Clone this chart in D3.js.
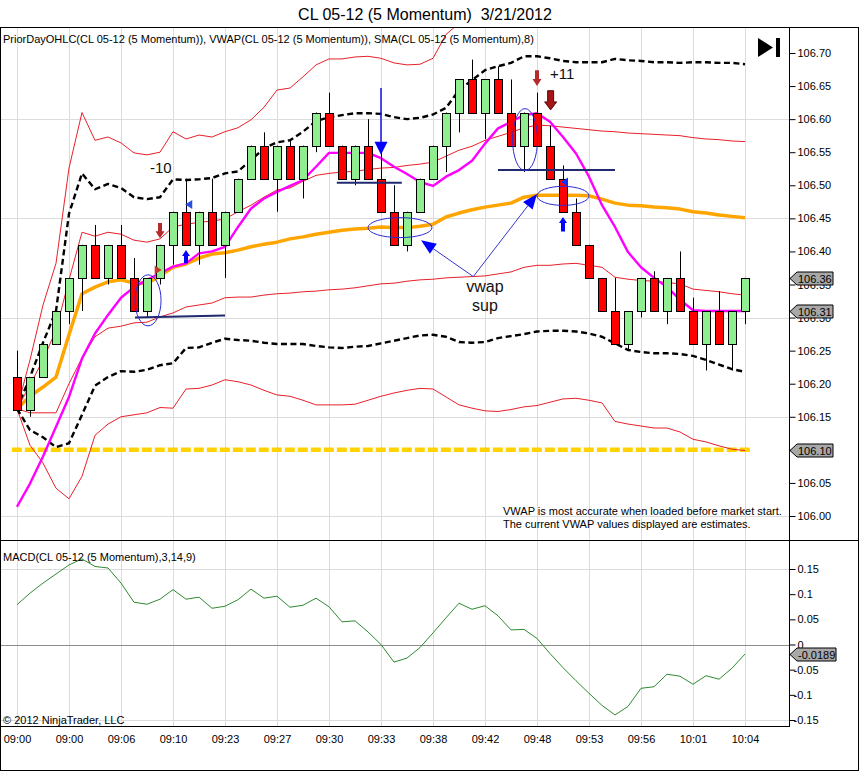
<!DOCTYPE html>
<html>
<head>
<meta charset="utf-8">
<script src="https://cdn.jsdelivr.net/npm/d3@7"></script>
<style>
  body { margin: 0; background: #fff; }
  svg { display: block; font-family: "Liberation Sans", Arial, sans-serif; }
</style>
</head>
<body>
<svg id="chart" width="860" height="772"></svg>
<script>
// 5 tick momentum bars, CL 05-12, 3/21/2012
const opens = [106.21,106.16,106.21,106.26,106.31,106.36,106.41,106.36,106.41,106.36,
  106.31,106.36,106.41,106.46,106.41,106.46,106.41,106.46,106.51,106.56,
  106.51,106.56,106.51,106.56,106.61,106.56,106.51,106.56,106.51,106.46,
  106.41,106.46,106.51,106.56,106.61,106.66,106.61,106.66,106.61,106.56,
  106.61,106.56,106.51,106.46,106.41,106.36,106.31,106.26,106.31,106.36,
  106.31,106.36,106.31,106.26,106.31,106.26,106.31]
const highs = [106.25,106.21,106.26,106.31,106.36,106.41,106.44,106.41,106.44,106.39,
  106.36,106.41,106.46,106.51,106.46,106.51,106.46,106.51,106.56,106.58,
  106.56,106.57,106.56,106.61,106.64,106.56,106.56,106.60,106.55,106.50,
  106.46,106.51,106.56,106.61,106.66,106.69,106.66,106.68,106.66,106.61,
  106.64,106.59,106.53,106.48,106.41,106.36,106.36,106.31,106.36,106.37,
  106.36,106.40,106.33,106.31,106.34,106.31,106.36]
const lows = [106.16,106.15,106.21,106.26,106.29,106.31,106.36,106.35,106.36,106.31,
  106.30,106.35,106.38,106.41,106.38,106.41,106.36,106.46,106.51,106.51,
  106.46,106.51,106.48,106.55,106.56,106.51,106.50,106.51,106.46,106.41,
  106.40,106.46,106.51,106.52,106.58,106.61,106.57,106.61,106.56,106.52,
  106.56,106.51,106.46,106.41,106.36,106.31,106.26,106.25,106.30,106.31,
  106.29,106.31,106.26,106.22,106.26,106.22,106.29]
const closes = [106.16,106.21,106.26,106.31,106.36,106.41,106.36,106.41,106.36,106.31,
  106.36,106.41,106.46,106.41,106.46,106.41,106.46,106.51,106.56,106.51,
  106.56,106.51,106.56,106.61,106.56,106.51,106.56,106.51,106.46,106.41,
  106.46,106.51,106.56,106.61,106.66,106.61,106.66,106.61,106.56,106.61,
  106.56,106.51,106.46,106.41,106.36,106.31,106.26,106.31,106.36,106.31,
  106.36,106.31,106.26,106.31,106.26,106.31,106.36]

// VWAP and its deviation bands
const vwap = [106.162,106.181,106.195,106.210,106.274,106.336,106.346,106.354,106.357,106.352,
  106.352,106.363,106.376,106.381,106.390,106.396,106.398,106.402,106.407,106.411,
  106.414,106.419,106.422,106.426,106.429,106.432,106.434,106.435,106.437,106.436,
  106.436,106.438,106.441,106.452,106.458,106.463,106.467,106.470,106.473,106.482,
  106.485,106.485,106.485,106.485,106.484,106.479,106.473,106.470,106.469,106.467,
  106.466,106.464,106.460,106.458,106.455,106.453,106.451]
const band1Upper = [106.162,106.198,106.236,106.281,106.357,106.429,106.423,106.429,106.426,106.417,
  106.414,106.419,106.437,106.441,106.444,106.446,106.449,106.460,106.470,106.482,
  106.493,106.496,106.506,106.515,106.518,106.520,106.521,106.524,106.526,106.527,
  106.530,106.532,106.535,106.544,106.553,106.559,106.568,106.574,106.580,106.587,
  106.591,106.590,106.588,106.586,106.584,106.582,106.581,106.579,106.578,106.577,
  106.576,106.575,106.572,106.570,106.569,106.567,106.566]
const band1Lower = [106.162,106.156,106.156,106.156,106.200,106.239,106.271,106.284,106.287,106.292,
  106.293,106.301,106.307,106.316,106.319,106.322,106.330,106.331,106.331,106.334,
  106.336,106.337,106.339,106.340,106.342,106.343,106.345,106.348,106.351,106.352,
  106.355,106.357,106.358,106.360,106.361,106.362,106.363,106.366,106.369,106.376,
  106.379,106.379,106.381,106.382,106.379,106.376,106.361,106.358,106.356,106.355,
  106.353,106.351,106.343,106.341,106.339,106.336,106.334]
const band2Upper = [106.162,106.210,106.262,106.310,106.457,106.518,106.494,106.502,106.496,106.482,
  106.479,106.482,106.509,106.508,106.509,106.511,106.518,106.521,106.538,106.556,
  106.565,106.568,106.581,106.597,106.603,106.606,106.609,106.609,106.608,106.603,
  106.600,106.602,106.607,106.617,106.644,106.659,106.674,106.680,106.685,106.695,
  106.695,106.692,106.688,106.686,106.686,106.686,106.691,106.689,106.688,106.686,
  106.686,106.685,106.686,106.686,106.685,106.685,106.683]
const band2Lower = [106.162,106.130,106.119,106.104,106.110,106.153,106.197,106.210,106.219,106.218,
  106.221,106.228,106.231,106.254,106.255,106.262,106.268,106.266,106.265,106.262,
  106.260,106.260,106.260,106.257,106.255,106.254,106.256,106.257,106.261,106.265,
  106.269,106.273,106.274,106.271,106.263,106.262,106.263,106.269,106.272,106.275,
  106.279,106.280,106.280,106.279,106.276,106.271,106.261,106.251,106.248,106.246,
  106.246,106.245,106.242,106.236,106.229,106.222,106.218]
const band3Upper = [106.162,106.236,106.319,106.382,106.526,106.610,106.568,106.573,106.564,106.549,
  106.546,106.550,106.581,106.570,106.576,106.573,106.581,106.587,106.599,106.618,
  106.644,106.647,106.664,106.682,106.691,106.691,106.694,106.695,106.692,106.685,
  106.682,106.683,106.692,106.728,106.745,106.751,106.770,106.782,106.794,106.797,
  106.803,106.800,106.794,106.788,106.784,106.788,106.797,106.797,106.796,106.797,
  106.796,106.797,106.796,106.794,106.797,106.795,106.796]
const band3Lower = [106.162,106.107,106.080,106.042,106.026,106.060,106.122,106.139,106.150,106.153,
  106.156,106.164,106.163,106.192,106.193,106.198,106.206,106.203,106.198,106.190,
  106.183,106.181,106.175,106.168,106.168,106.168,106.169,106.175,106.181,106.186,
  106.190,106.193,106.192,106.180,106.168,106.163,106.159,106.158,106.161,106.165,
  106.167,106.172,106.177,106.178,106.175,106.171,106.143,106.139,106.136,106.133,
  106.133,106.127,106.116,106.112,106.106,106.101,106.099]

// SMA(8)
const sma8 = [106.014,106.049,106.090,106.135,106.180,106.238,106.276,106.304,106.330,106.346,
  106.357,106.367,106.377,106.382,106.397,106.400,106.407,106.437,106.465,106.480,
  106.490,106.499,106.508,106.528,106.549,106.549,106.549,106.549,106.541,106.528,
  106.517,106.505,106.499,106.513,106.523,106.537,106.563,106.586,106.596,106.606,
  106.609,106.596,106.573,106.548,106.513,106.470,106.437,106.399,106.376,106.360,
  106.346,106.327,106.311,106.310,106.310,106.310,106.310]

// MACD(3,14,9)
const macd = [0.079,0.102,0.122,0.140,0.158,0.170,0.155,0.152,0.122,0.084,
  0.080,0.090,0.109,0.090,0.094,0.072,0.076,0.089,0.110,0.092,
  0.096,0.074,0.078,0.092,0.075,0.045,0.047,0.025,0.000,-0.035,
  -0.027,-0.006,0.023,0.053,0.082,0.070,0.077,0.057,0.029,0.030,
  0.012,-0.018,-0.046,-0.072,-0.097,-0.121,-0.140,-0.123,-0.087,-0.084,
  -0.059,-0.063,-0.079,-0.062,-0.069,-0.047,-0.0189]

const priorDayLevel = 106.10

const xTickBars = [0,4,8,12,16,20,24,28,32,36,40,44,48,52,56]
const xTickLabels = ["09:00","09:00","09:06","09:10","09:23","09:27","09:30","09:33",
  "09:38","09:42","09:48","09:53","09:56","10:01","10:04"]
const priceTicks = [106.00,106.05,106.10,106.15,106.20,106.25,106.30,106.35,106.40,
  106.45,106.50,106.55,106.60,106.65,106.70]
const priceGrid = [106.00,106.15,106.30,106.45,106.60]
const macdTicks = [0.15,0.1,0.05,0,-0.05,-0.1,-0.15]
const macdGrid = [0.15,-0.15]

const priceMarkers = [106.36, 106.31, 106.10]
const macdMarkers = [-0.0189]

// hand drawn objects, in bar / price units
const ellipses = [
  {bar: 10.08, price: 106.326, rxBars: 1.0, ryPrice: 0.0386},
  {bar: 29.46, price: 106.436, rxBars: 2.46, ryPrice: 0.0151},
  {bar: 39.08, price: 106.569, rxBars: 0.96, ryPrice: 0.0469},
  {bar: 42.0, price: 106.484, rxBars: 2.0, ryPrice: 0.0144}
]
const levelLines = [
  {from: 9.08, to: 16.0, p1: 106.300, p2: 106.303},
  {from: 24.6, to: 29.6, p1: 106.504, p2: 106.504},
  {from: 37.0, to: 46.0, p1: 106.523, p2: 106.523}
]
const blockArrows = [
  {bar: 11, from: 106.443, to: 106.420, kind: "red"},
  {bar: 40, from: 106.674, to: 106.650, kind: "red"},
  {bar: 41.05, from: 106.643, to: 106.614, kind: "bigred"},
  {bar: 13, from: 106.382, to: 106.402, kind: "blue"},
  {bar: 42, from: 106.430, to: 106.452, kind: "blue"}
]
const markTriangles = [
  {bar: 13.25, price: 106.471, dir: -1, color: "#2a4ee0"},
  {bar: 10.82, price: 106.372, dir: 1, color: "#c0392b"},
  {bar: 42.15, price: 106.505, dir: -1, color: "#1030ff"}
]
const sellArrow = {bar: 28, from: 106.647, to: 106.546}
const vwapSupAnchor = {bar: 35.1, price: 106.362}
const vwapSupTargets = [{bar: 31.08, price: 106.417}, {bar: 40.0, price: 106.487}]
const notes = [
  {text: "-10", bar: 10.23, price: 106.519, anchor: "start", size: 15},
  {text: "+11", bar: 41.0, price: 106.661, anchor: "start", size: 15},
  {text: "vwap", bar: 36.0, price: 106.339, anchor: "middle", size: 16},
  {text: "sup", bar: 36.0, price: 106.310, anchor: "middle", size: 16}
]

// ---------------------------------------------------------------
const svg = d3.select("#chart")
const axisX = 789

const x = d3.scaleLinear().domain([0, 56]).range([17, 745])
const y = d3.scaleLinear().domain([106.00, 106.70]).range([516, 53])
const yMacd = d3.scaleLinear().domain([-0.15, 0.15]).range([720, 569])

const crisp = v => Math.round(v) + 0.5

const defs = svg.append("defs")
defs.append("clipPath").attr("id", "clipPrice")
  .append("rect").attr("x", 1).attr("y", 28).attr("width", axisX - 1).attr("height", 512)
defs.append("clipPath").attr("id", "clipMacd")
  .append("rect").attr("x", 1).attr("y", 541).attr("width", axisX - 1).attr("height", 185)

// grid
const grid = svg.append("g").attr("stroke", "#dcdcdc").attr("stroke-width", 1)
grid.selectAll("line.gv").data(xTickBars).join("line").attr("class", "gv")
  .attr("x1", d => crisp(x(d))).attr("x2", d => crisp(x(d)))
  .attr("y1", 28).attr("y2", 726)
grid.selectAll("line.gp").data(priceGrid).join("line").attr("class", "gp")
  .attr("x1", 1).attr("x2", axisX)
  .attr("y1", d => crisp(y(d))).attr("y2", d => crisp(y(d)))
grid.selectAll("line.gm").data(macdGrid).join("line").attr("class", "gm")
  .attr("x1", 1).attr("x2", axisX)
  .attr("y1", d => crisp(yMacd(d))).attr("y2", d => crisp(yMacd(d)))

// price panel
const pricePlot = svg.append("g").attr("clip-path", "url(#clipPrice)")

pricePlot.append("line")
  .attr("x1", x(-0.4)).attr("x2", x(56.4))
  .attr("y1", y(priorDayLevel)).attr("y2", y(priorDayLevel))
  .attr("stroke", "#ffd200").attr("stroke-width", 4.5)
  .attr("stroke-dasharray", "10,3")

const priceLine = d3.line().x((d, i) => x(i)).y(d => y(d))

const lineSeries = [
  {data: band3Upper, color: "#e8202a", width: 1, dash: null},
  {data: band3Lower, color: "#e8202a", width: 1, dash: null},
  {data: band2Upper, color: "#000", width: 2.4, dash: "6,3.5"},
  {data: band2Lower, color: "#000", width: 2.4, dash: "6,3.5"},
  {data: band1Upper, color: "#e8202a", width: 1, dash: null},
  {data: band1Lower, color: "#e8202a", width: 1, dash: null},
  {data: vwap, color: "#ffa500", width: 3.5, dash: null},
  {data: sma8, color: "#ff00ff", width: 2.4, dash: null}
]
pricePlot.selectAll("path.ind").data(lineSeries).join("path").attr("class", "ind")
  .attr("d", d => priceLine(d.data))
  .attr("fill", "none")
  .attr("stroke", d => d.color)
  .attr("stroke-width", d => d.width)
  .attr("stroke-dasharray", d => d.dash)
  .attr("stroke-linejoin", "round")

// candles
const bars = opens.map((o, i) => ({i: i, o: o, h: highs[i], l: lows[i], c: closes[i]}))
const candles = pricePlot.selectAll("g.bar").data(bars).join("g").attr("class", "bar")
candles.append("line")
  .attr("x1", d => crisp(x(d.i))).attr("x2", d => crisp(x(d.i)))
  .attr("y1", d => y(d.h)).attr("y2", d => y(d.l))
  .attr("stroke", "#000")
candles.append("rect")
  .attr("x", d => Math.round(x(d.i)) - 4 + 0.5)
  .attr("y", d => Math.round(y(Math.max(d.o, d.c))) + 0.5)
  .attr("width", 8)
  .attr("height", d => Math.round(y(Math.min(d.o, d.c))) - Math.round(y(Math.max(d.o, d.c))))
  .attr("fill", d => d.c >= d.o ? "#90ee90" : "#ff0000")
  .attr("stroke", "#000")

// drawn objects
const draw = pricePlot.append("g")
const pxPerBar = x(1) - x(0)

draw.selectAll("line.lvl").data(levelLines).join("line").attr("class", "lvl")
  .attr("x1", d => x(d.from)).attr("x2", d => x(d.to))
  .attr("y1", d => y(d.p1)).attr("y2", d => y(d.p2))
  .attr("stroke", "#1f2a70").attr("stroke-width", 2)

draw.selectAll("ellipse").data(ellipses).join("ellipse")
  .attr("cx", d => x(d.bar)).attr("cy", d => y(d.price))
  .attr("rx", d => d.rxBars * pxPerBar)
  .attr("ry", d => y(106) - y(106 + d.ryPrice))
  .attr("fill", "none").attr("stroke", "#2b2bd6").attr("stroke-width", 1)

const arrowKinds = {
  red: {shaft: 4, head: 9, headLen: 7, fill: "#b52a2a", stroke: "none"},
  bigred: {shaft: 6, head: 12, headLen: 8, fill: "#a31616", stroke: "#5c0808"},
  blue: {shaft: 4, head: 8, headLen: 6, fill: "#0000ff", stroke: "none"}
}
draw.selectAll("polygon.blk").data(blockArrows).join("polygon").attr("class", "blk")
  .attr("points", d => {
    const k = arrowKinds[d.kind]
    const cx = x(d.bar), yt = y(d.from), yp = y(d.to)
    const dir = yp > yt ? 1 : -1
    const yn = yp - dir * k.headLen
    return [[cx - k.shaft / 2, yt], [cx + k.shaft / 2, yt], [cx + k.shaft / 2, yn],
      [cx + k.head / 2, yn], [cx, yp], [cx - k.head / 2, yn], [cx - k.shaft / 2, yn]]
      .map(p => p.join(",")).join(" ")
  })
  .attr("fill", d => arrowKinds[d.kind].fill)
  .attr("stroke", d => arrowKinds[d.kind].stroke)

draw.selectAll("polygon.tri").data(markTriangles).join("polygon").attr("class", "tri")
  .attr("points", d => {
    const cx = x(d.bar), cy = y(d.price)
    return [[cx + d.dir * 4, cy], [cx - d.dir * 3, cy - 4.5], [cx - d.dir * 3, cy + 4.5]]
      .map(p => p.join(",")).join(" ")
  })
  .attr("fill", d => d.color)

// sell arrow at the 09:33 high
{
  const cx = x(sellArrow.bar), y0 = y(sellArrow.from), y1 = y(sellArrow.to)
  draw.append("line").attr("x1", cx).attr("x2", cx).attr("y1", y0).attr("y2", y1 - 12)
    .attr("stroke", "#1515e0").attr("stroke-width", 1.5)
  draw.append("polygon")
    .attr("points", [[cx - 6.5, y1 - 13], [cx + 6.5, y1 - 13], [cx, y1]].map(p => p.join(",")).join(" "))
    .attr("fill", "#0000ff")
}

// vwap support arrows
vwapSupTargets.forEach(t => {
  const ax = x(vwapSupAnchor.bar), ay = y(vwapSupAnchor.price)
  const tx = x(t.bar), ty = y(t.price)
  const len = Math.hypot(tx - ax, ty - ay)
  const ux = (tx - ax) / len, uy = (ty - ay) / len
  const bx = tx - ux * 15, by = ty - uy * 15
  draw.append("line").attr("x1", ax).attr("y1", ay).attr("x2", bx).attr("y2", by)
    .attr("stroke", "#3535cc").attr("stroke-width", 1)
  draw.append("polygon")
    .attr("points", [[tx, ty], [bx - uy * 6, by + ux * 6], [bx + uy * 6, by - ux * 6]]
      .map(p => p.join(",")).join(" "))
    .attr("fill", "#0000ff")
})

draw.selectAll("text.note").data(notes).join("text").attr("class", "note")
  .attr("x", d => x(d.bar)).attr("y", d => y(d.price))
  .attr("text-anchor", d => d.anchor)
  .attr("font-size", d => d.size)
  .attr("fill", "#111")
  .text(d => d.text)

// macd panel
const macdPlot = svg.append("g").attr("clip-path", "url(#clipMacd)")
macdPlot.append("line").attr("x1", 1).attr("x2", axisX)
  .attr("y1", crisp(yMacd(0))).attr("y2", crisp(yMacd(0)))
  .attr("stroke", "#8c8c8c")
macdPlot.append("path")
  .attr("d", d3.line().x((d, i) => x(i)).y(d => yMacd(d))(macd))
  .attr("fill", "none").attr("stroke", "#2f8a2f").attr("stroke-width", 1)

// frame
const frame = svg.append("g").attr("stroke", "#000").attr("fill", "none")
frame.append("rect").attr("x", 0.5).attr("y", 27.5).attr("width", 858).attr("height", 743)
frame.append("line").attr("x1", 0).attr("x2", 859).attr("y1", 540.5).attr("y2", 540.5)
frame.append("line").attr("x1", 0).attr("x2", axisX).attr("y1", 726.5).attr("y2", 726.5)
frame.append("line").attr("x1", axisX + 0.5).attr("x2", axisX + 0.5).attr("y1", 28).attr("y2", 727)

// axes
const priceAxis = svg.append("g").attr("transform", `translate(${axisX + 0.5},0)`)
  .call(d3.axisRight(y).tickValues(priceTicks).tickFormat(d3.format(".2f")).tickSize(6).tickPadding(2))
const macdAxis = svg.append("g").attr("transform", `translate(${axisX + 0.5},0)`)
  .call(d3.axisRight(yMacd).tickValues(macdTicks).tickFormat(d => String(d)).tickSize(6).tickPadding(2))
const timeAxis = svg.append("g").attr("transform", "translate(0,726)")
  .call(d3.axisBottom(x).tickValues(xTickBars).tickFormat((d, i) => xTickLabels[i]).tickSize(0).tickPadding(9))
;[priceAxis, macdAxis, timeAxis].forEach(a => {
  a.select(".domain").remove()
  a.selectAll("text").attr("font-size", 11).attr("font-family", "Liberation Sans, Arial, sans-serif").attr("fill", "#000")
  a.selectAll("line").attr("stroke", "#000")
})
macdAxis.selectAll("text").filter(d => d < 0).attr("x", 4)

// last value markers
function valueTag(g, yPos, label, w) {
  const yc = Math.round(yPos) + 0.5, x0 = axisX + 1
  g.append("polygon")
    .attr("points", [[x0, yc], [x0 + 7, yc - 6.5], [x0 + 7 + w, yc - 6.5], [x0 + 7 + w, yc + 6.5], [x0 + 7, yc + 6.5]]
      .map(p => p.join(",")).join(" "))
    .attr("fill", "#a8a8a8").attr("stroke", "#000")
  g.append("text").attr("x", x0 + 8).attr("y", yc + 4).attr("font-size", 11).text(label)
}
const tags = svg.append("g")
priceMarkers.forEach(v => valueTag(tags, y(v), d3.format(".2f")(v), 36))
macdMarkers.forEach(v => valueTag(tags, yMacd(v), String(v), 39))

// texts
svg.append("text").attr("x", 425).attr("y", 20).attr("text-anchor", "middle")
  .attr("font-size", 16).text("CL 05-12 (5 Momentum)  3/21/2012").style("white-space", "pre")
svg.append("text").attr("x", 3).attr("y", 43).attr("font-size", 11)
  .text("PriorDayOHLC(CL 05-12 (5 Momentum)), VWAP(CL 05-12 (5 Momentum)), SMA(CL 05-12 (5 Momentum),8)")
svg.append("text").attr("x", 3).attr("y", 561).attr("font-size", 11)
  .text("MACD(CL 05-12 (5 Momentum),3,14,9)")
svg.append("text").attr("x", 3).attr("y", 724).attr("font-size", 11)
  .text("\u00a9 2012 NinjaTrader, LLC")
svg.append("text").attr("x", 503).attr("y", 515).attr("font-size", 11)
  .text("VWAP is most accurate when loaded before market start.")
svg.append("text").attr("x", 503).attr("y", 528).attr("font-size", 11)
  .text("The current VWAP values displayed are estimates.")

// "go to last bar" button
svg.append("polygon").attr("points", "758,38 758,57 773,47.5").attr("fill", "#000")
svg.append("rect").attr("x", 776).attr("y", 38).attr("width", 4).attr("height", 19).attr("fill", "#000")
</script>
</body>
</html>
